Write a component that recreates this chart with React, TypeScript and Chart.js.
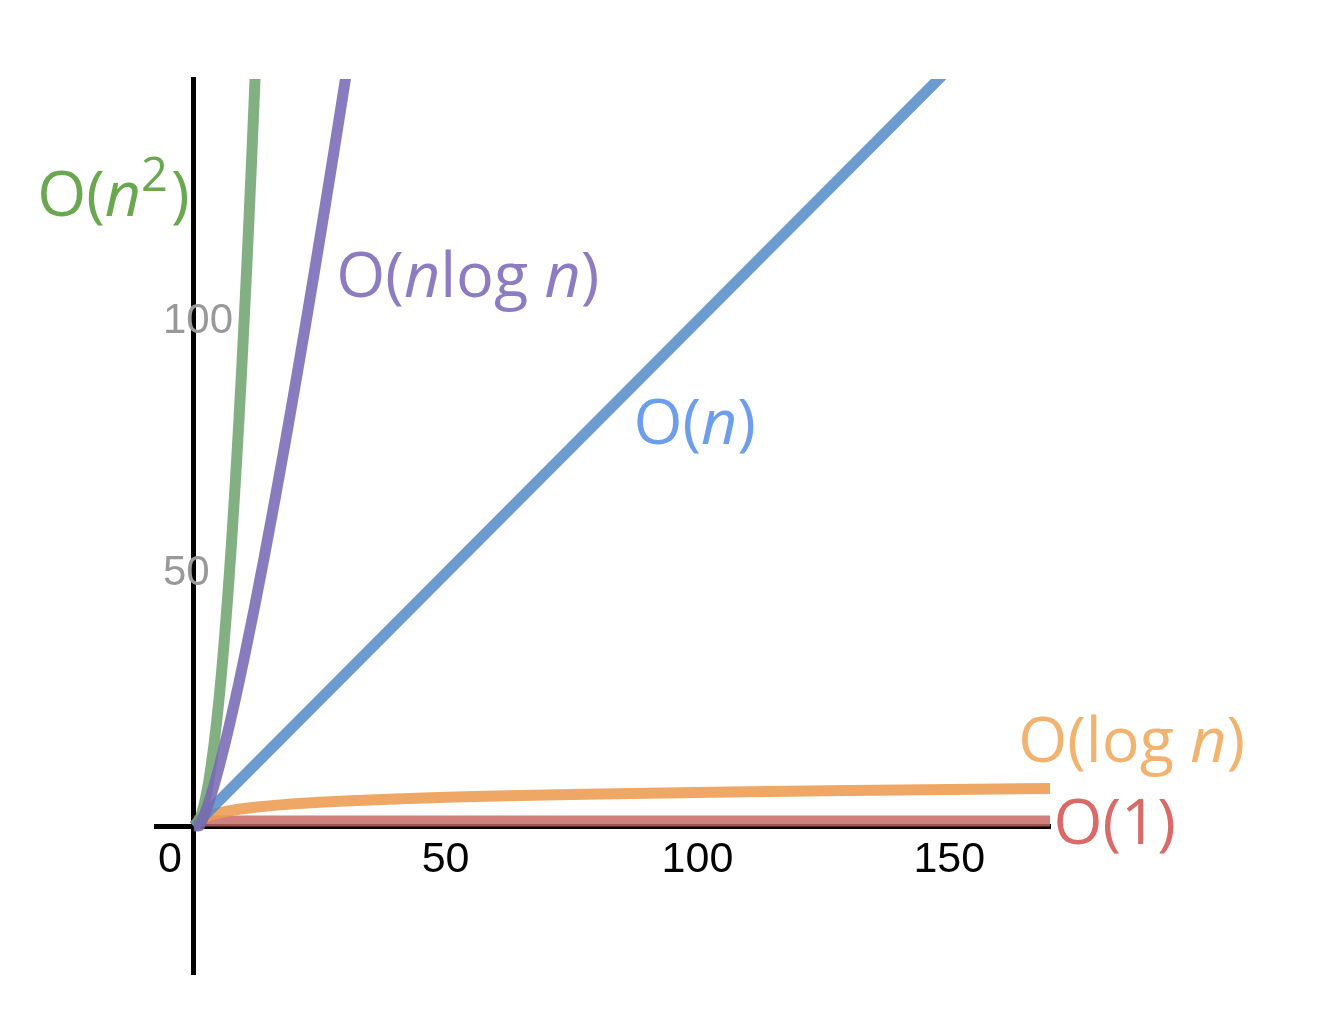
import React, { useEffect, useRef } from "react";
import { Chart, registerables } from "chart.js";

Chart.register(...registerables);

// ---- data ----
const constantX = [0, 170];
const constantY = [1, 1];

const logX = [0, 1, 2, 3, 4, 6, 8, 10, 13, 16, 20, 25, 30, 40, 50, 60, 75, 90, 110, 130, 150, 170];
const logY = [0, 1, 1.585, 2, 2.322, 2.807, 3.17, 3.459, 3.807, 4.087, 4.392, 4.7, 4.954, 5.358, 5.672, 5.931, 6.248, 6.508, 6.794, 7.034, 7.238, 7.418];

const linearX = [0, 150];
const linearY = [0, 150];

const nlognX = [0, 1, 2, 3, 4, 5, 6, 7, 8, 9, 10, 12, 14, 16, 18, 20, 22, 24, 26, 28, 30, 31];
const nlognY = [0, 0, 2, 4.75, 8, 11.61, 15.51, 19.65, 24, 28.53, 33.22, 43.02, 53.3, 64, 75.06, 86.44, 98.1, 110.04, 122.21, 134.61, 147.21, 153.58];

const quadX = [0, 0.5, 1, 1.5, 2, 2.5, 3, 3.5, 4, 4.5, 5, 5.5, 6, 6.5, 7, 7.5, 8, 8.5, 9, 9.5, 10, 10.5, 11, 11.5, 12, 12.5];
const quadY = [0, 0.25, 1, 2.25, 4, 6.25, 9, 12.25, 16, 20.25, 25, 30.25, 36, 42.25, 49, 56.25, 64, 72.25, 81, 90.25, 100, 110.25, 121, 132.25, 144, 156.25];

const xTickValues = [0, 50, 100, 150];
const yTickValues = [50, 100];

// series name labels: [text, style] parts
const quadName = [["O(", ""], ["n", "i"], ["2", "sup"], [")", ""]];
const nlognName = [["O(", ""], ["n", "i"], ["log ", ""], ["n", "i"], [")", ""]];
const linearName = [["O(", ""], ["n", "i"], [")", ""]];
const logName = [["O(log ", ""], ["n", "i"], [")", ""]];
const constantName = [["O(1)", ""]];

// ---- layout / style ----
const LABELS = [
  { parts: quadName, x: -31.1, y: 120.8, color: "#6aa84f" },
  { parts: nlognName, x: 28.3, y: 104.75, color: "#8e7cc3" },
  { parts: linearName, x: 87.3, y: 75.6, color: "#6d9eeb" },
  { parts: logName, x: 163.7, y: 12.7, color: "#f1b36f" },
  { parts: constantName, x: 170.7, y: -3.56, color: "#d96a68" },
];

const LABEL_FONT = '"Open Sans", "Noto Sans", sans-serif';
const TICK_FONT = '"Liberation Sans", Arial, sans-serif';
const LABEL_SIZE = 63;

const toPoints = (xs: number[], ys: number[]) => xs.map((x, i) => ({ x, y: ys[i] }));

const labelPlugin = {
  id: "seriesLabels",
  afterDatasetsDraw(chart: any) {
    const { ctx } = chart;
    const xs = chart.scales.x;
    const ys = chart.scales.y;
    ctx.save();
    ctx.textAlign = "left";
    ctx.textBaseline = "alphabetic";
    for (const lab of LABELS) {
      let px = xs.getPixelForValue(lab.x);
      const py = ys.getPixelForValue(lab.y);
      ctx.fillStyle = lab.color;
      for (const [text, style] of lab.parts) {
        let size = LABEL_SIZE;
        let dy = 0;
        const italic = style === "i";
        if (style === "sup") {
          size = 47;
          dy = -25;
        }
        ctx.font = `${italic ? "italic " : ""}${size}px ${LABEL_FONT}`;
        ctx.fillText(text, px, py + dy);
        px += ctx.measureText(text).width + (style === "sup" ? 3 : 0);
      }
    }
    ctx.restore();
  },
};

export default function App() {
  const ref = useRef<HTMLCanvasElement | null>(null);

  useEffect(() => {
    if (!ref.current) return;
    const common = {
      borderWidth: 11,
      pointRadius: 0,
      fill: false,
      cubicInterpolationMode: "monotone" as const,
    };
    const chart = new Chart(ref.current, {
      type: "line",
      data: {
        datasets: [
          { ...common, label: "O(n log n)", data: toPoints(nlognX, nlognY), borderColor: "rgba(120,105,181,0.88)" },
          { ...common, label: "O(n^2)", data: toPoints(quadX, quadY), borderColor: "rgba(108,162,108,0.85)" },
          { ...common, label: "O(n)", data: toPoints(linearX, linearY), borderColor: "rgba(82,137,200,0.85)" },
          { ...common, label: "O(log n)", data: toPoints(logX, logY), borderColor: "rgba(237,155,80,0.88)" },
          { ...common, label: "O(1)", data: toPoints(constantX, constantY), borderColor: "rgba(195,101,96,0.82)" },
        ],
      },
      options: {
        animation: false,
        responsive: false,
        events: [],
        layout: { padding: { left: 142, top: 79, right: 268, bottom: 62 } },
        plugins: { legend: { display: false }, tooltip: { enabled: false } },
        scales: {
          x: {
            type: "linear",
            min: -7.5,
            max: 170,
            position: { y: 0 } as any,
            grid: { display: false, drawTicks: false },
            border: { display: true, color: "#000", width: 5 },
            afterBuildTicks: (s: any) => {
              s.ticks = xTickValues.map((v) => ({ value: v }));
            },
            ticks: {
              color: "#000",
              font: { family: TICK_FONT, size: 43 },
              padding: 8,
              maxRotation: 0,
              autoSkip: false,
              callback: (v: any) => (v === 0 ? "0    " : String(v)),
            },
          },
          y: {
            type: "linear",
            min: -29.3,
            max: 147.9,
            position: "left",
            grid: { display: false, drawTicks: false },
            border: { display: false },
            afterBuildTicks: (s: any) => {
              s.ticks = yTickValues.map((v) => ({ value: v }));
            },
            ticks: {
              mirror: true,
              padding: 7,
              color: "#999999",
              font: { family: TICK_FONT, size: 42 },
              autoSkip: false,
            },
          },
          y2: {
            type: "linear",
            axis: "y",
            min: -29.3,
            max: 147.9,
            position: { x: 0 } as any,
            grid: { display: false, drawTicks: false },
            border: { display: true, color: "#000", width: 5, z: -1 },
            ticks: { display: false },
          },
        } as any,
      },
      plugins: [labelPlugin],
    });
    return () => chart.destroy();
  }, []);

  return (
    <div style={{ position: "absolute", left: 0, top: 0, width: 1318, height: 1036, background: "#fff" }}>
      <canvas ref={ref} width={1318} height={1036} style={{ display: "block" }} />
    </div>
  );
}
